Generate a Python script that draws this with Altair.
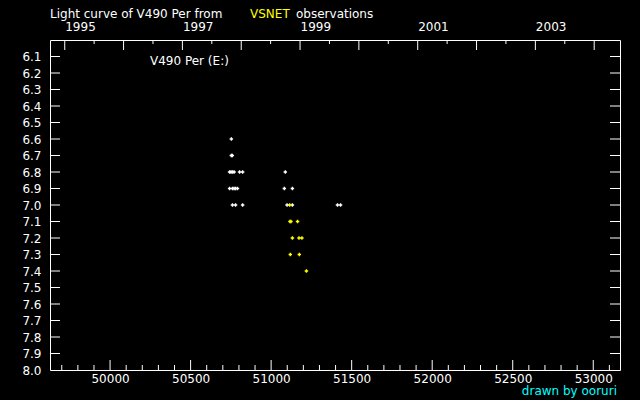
import altair as alt
import pandas as pd
import jinja2

# ---- data ----
white_jd = [50753, 50753, 50759, 50742, 50751, 50760, 50770, 50804, 50823,
            50742, 50760, 50770, 50779, 50791, 50760, 50779, 50823,
            51088, 51082, 51132, 51099, 51132, 51412, 51431]
white_mag = [6.6, 6.7, 6.7, 6.8, 6.8, 6.8, 6.8, 6.8, 6.8,
             6.9, 6.9, 6.9, 6.9, 6.9, 7.0, 7.0, 7.0,
             6.8, 6.9, 6.9, 7.0, 7.0, 7.0, 7.0]
vsnet_jd = [51115, 51117, 51123, 51164, 51132, 51173, 51191, 51119, 51175, 51219]
vsnet_mag = [7.0, 7.1, 7.1, 7.1, 7.2, 7.2, 7.2, 7.3, 7.3, 7.4]

jd_labels = [50000, 50500, 51000, 51500, 52000, 52500, 53000]
jd_minor = [v for v in range(49700, 53101, 100) if v % 500 != 0]
mag_ticks = [6.1, 6.2, 6.3, 6.4, 6.5, 6.6, 6.7, 6.8, 6.9, 7.0,
             7.1, 7.2, 7.3, 7.4, 7.5, 7.6, 7.7, 7.8, 7.9]
mag_labels = mag_ticks + [8.0]
year_major = [1995, 1996, 1997, 1998, 1999, 2000, 2001, 2002, 2003, 2004]
year_minor = [1995.5, 1996.5, 1997.5, 1998.5, 1999.5, 2000.5, 2001.5, 2002.5, 2003.5]
year_labels = [1995, 1997, 1999, 2001, 2003]

W, H = 570, 330
FONT = "DejaVu Sans"

df = pd.DataFrame({
    "jd": white_jd + vsnet_jd,
    "mag": white_mag + vsnet_mag,
    "src": ["other"] * len(white_jd) + ["VSNET"] * len(vsnet_jd),
})

xs = alt.Scale(domain=[49627, 53166], nice=False, zero=False)
ys = alt.Scale(domain=[6.0, 8.0], reverse=True, nice=False, zero=False)
yrs = alt.Scale(domain=[1994.7495, 2004.4387], nice=False, zero=False)

lab = dict(labelColor="white", labelFont=FONT, labelFontSize=12, grid=False,
           ticks=False, domain=False, title=None, labelOverlap=False,
           labelFlush=False)

y_axis = alt.Axis(orient="left", values=mag_labels, format=".1f", labelPadding=9, **lab)

pts = alt.Chart(df).mark_point(shape="cross", filled=True, size=12, opacity=1).encode(
    x=alt.X("jd:Q", scale=xs,
            axis=alt.Axis(orient="bottom", values=jd_labels, format="d", labelPadding=3, **lab)),
    y=alt.Y("mag:Q", scale=ys, axis=y_axis),
    color=alt.Color("src:N", scale=alt.Scale(domain=["other", "VSNET"],
                                             range=["#ffffff", "#ffff00"]), legend=None),
)

bt_major = alt.Chart(pd.DataFrame({"jd": jd_labels})).mark_rule(color="white").encode(
    x=alt.X("jd:Q", scale=xs, axis=None), y=alt.value(H), y2=alt.value(H - 10))
bt_minor = alt.Chart(pd.DataFrame({"jd": jd_minor})).mark_rule(color="white").encode(
    x=alt.X("jd:Q", scale=xs, axis=None), y=alt.value(H), y2=alt.value(H - 5))

mt = pd.DataFrame({"mag": mag_ticks})
lt = alt.Chart(mt).mark_rule(color="white").encode(
    y=alt.Y("mag:Q", scale=ys, axis=y_axis), x=alt.value(0), x2=alt.value(10))
rt = alt.Chart(mt).mark_rule(color="white").encode(
    y=alt.Y("mag:Q", scale=ys, axis=y_axis), x=alt.value(W - 10), x2=alt.value(W))

top_major = alt.Chart(pd.DataFrame({"yr": year_major})).mark_rule(color="white").encode(
    x=alt.X("yr:Q", scale=yrs,
            axis=alt.Axis(orient="top", values=year_labels, format="d", labelAlign="left",
                          labelPadding=7, **lab)),
    y=alt.value(0), y2=alt.value(10))
top_minor = alt.Chart(pd.DataFrame({"yr": year_minor})).mark_rule(color="white").encode(
    x=alt.X("yr:Q", scale=yrs, axis=None), y=alt.value(0), y2=alt.value(4))


def label(text, x, y, color="white", align="left"):
    return alt.Chart(pd.DataFrame({"t": [text]})).mark_text(
        align=align, baseline="middle", font=FONT, fontSize=12, color=color
    ).encode(x=alt.value(x), y=alt.value(y), text="t:N")


texts = [
    label("Light curve of V490 Per from", 0, -26),
    label("VSNET", 200, -26, color="#ffff00"),
    label("observations", 246, -26),
    label("V490 Per (E:)", 100, 21),
    label("drawn by ooruri", 567, 351, color="#00ffff", align="right"),
]

chart = alt.layer(
    pts, bt_major, bt_minor, lt, rt, top_major, top_minor, *texts
).resolve_scale(x="independent").properties(
    width=W, height=H,
    autosize=alt.AutoSizeParams(type="none"),
    padding={"left": 42, "top": 32, "right": 12, "bottom": 30},
    background="black",
).configure_view(stroke="white", strokeWidth=1)

PAGE = jinja2.Template("""<!DOCTYPE html>
<html>
<head>
  <style>body { background: black; }</style>
  <script type="text/javascript" src="{{ base_url }}/vega@{{ vega_version }}"></script>
  <script type="text/javascript" src="{{ base_url }}/vega-lite@{{ vegalite_version }}"></script>
  <script type="text/javascript" src="{{ base_url }}/vega-embed@{{ vegaembed_version }}"></script>
</head>
<body>
  <div id="{{ output_div }}"></div>
  <script>
    (function(vegaEmbed) {
      var spec = {{ spec }};
      var embedOpt = {{ embed_options }};
      vegaEmbed("#{{ output_div }}", spec, embedOpt);
    })(vegaEmbed);
  </script>
</body>
</html>
""")

chart.save("out.html", embed_options={"renderer": "svg", "actions": False}, template=PAGE)
